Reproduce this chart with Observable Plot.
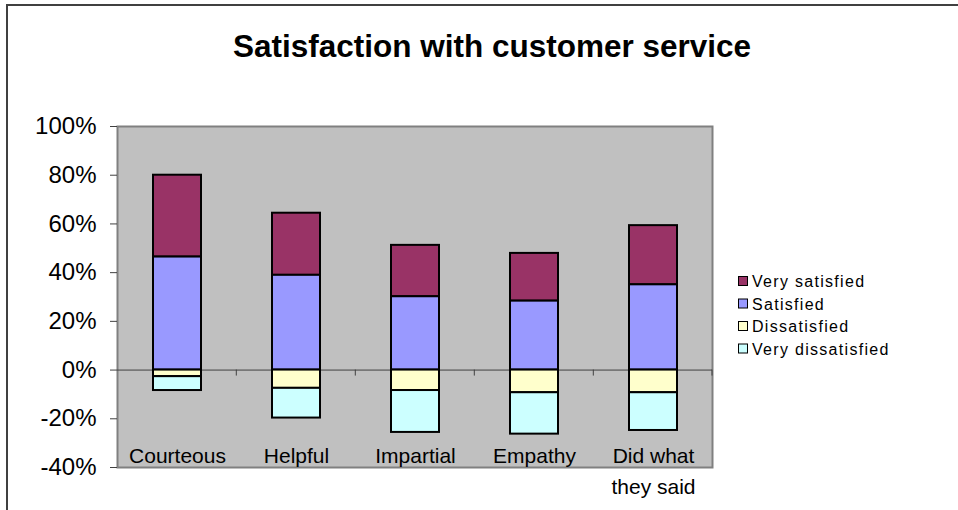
<!DOCTYPE html>
<html>
<head>
<meta charset="utf-8">
<script src="https://cdn.jsdelivr.net/npm/d3@7"></script>
<script src="https://cdn.jsdelivr.net/npm/@observablehq/plot@0.6"></script>
<style>
  html, body { margin: 0; padding: 0; background: white; }
  #chart svg { display: block; }
</style>
</head>
<body>
<div id="chart"></div>
<script>
const categories = ["Courteous", "Helpful", "Impartial", "Empathy", "Did what\nthey said"];
const verySatisfied    = [33.6, 25.5, 21.1, 19.6, 24.3];
const satisfied        = [46.4, 38.9, 30.1, 28.3, 35.0];
const dissatisfied     = [-2.7, -7.5, -8.4, -9.3, -9.3];
const veryDissatisfied = [-5.7, -12.2, -17.2, -17.0, -15.5];
const seriesNames  = ["Very satisfied", "Satisfied", "Dissatisfied", "Very dissatisfied"];
const seriesColors = ["#993366", "#9999FF", "#FFFFCC", "#CCFFFF"];
const yTicks = [-40, -20, 0, 20, 40, 60, 80, 100];
const title = "Satisfaction with customer service";

const seriesValues = [verySatisfied, satisfied, dissatisfied, veryDissatisfied];
const data = [];
seriesNames.forEach((s, k) => categories.forEach((c, i) => data.push({category: c, series: s, value: seriesValues[k][i]})));
const stackOrder = ["Satisfied", "Very satisfied", "Dissatisfied", "Very dissatisfied"];

const font = "'Liberation Sans', Arial, sans-serif";

const chart = Plot.plot({
  width: 958,
  height: 510,
  marginTop: 126,
  marginBottom: 43,
  marginLeft: 117,
  marginRight: 246,
  style: {fontFamily: font, background: "white", overflow: "visible"},
  x: {domain: categories, paddingInner: 0.6, paddingOuter: 0.3, axis: null},
  y: {domain: [-40, 100], axis: null},
  color: {domain: seriesNames, range: seriesColors},
  marks: [
    Plot.frame({fill: "#c0c0c0", stroke: "#808080", strokeWidth: 2}),
    Plot.axisY({ticks: yTicks, tickFormat: d => d + "%", tickSize: 7, tickPadding: 14, fontSize: 24, label: null, stroke: "#404040", fill: "black"}),
    Plot.ruleY([0], {stroke: "#404040", strokeWidth: 1}),
    Plot.barY(data, Plot.stackY({order: stackOrder}, {x: "category", y: "value", fill: "series", stroke: "black", strokeWidth: 2})),
    Plot.text(categories, {x: d => d, y: () => -40, text: d => d, fontSize: 21, lineAnchor: "top", dy: -27, lineHeight: 1.5, fill: "black"})
  ]
});

document.getElementById("chart").appendChild(chart);

const svg = d3.select(chart);
const xs = chart.scale("x");
const ys = chart.scale("y");
const y0 = ys.apply(0);
const gap = xs.step * xs.paddingInner / 2;
const bounds = categories.slice(1).map(c => xs.apply(c) - gap);
bounds.push(958 - 246);
svg.append("g").selectAll("line").data(bounds).join("line")
  .attr("x1", d => d).attr("x2", d => d)
  .attr("y1", y0).attr("y2", y0 + 6)
  .attr("stroke", "#404040").attr("stroke-width", 1);

// outer border
svg.append("line").attr("x1", 6).attr("x2", 958).attr("y1", 5).attr("y2", 5).attr("stroke", "#404040").attr("stroke-width", 2);
svg.append("line").attr("x1", 7).attr("x2", 7).attr("y1", 4).attr("y2", 510).attr("stroke", "#404040").attr("stroke-width", 2);

// title
svg.append("text").attr("x", 492).attr("y", 57).attr("text-anchor", "middle")
  .attr("font-family", font).attr("font-weight", "bold").attr("font-size", 31.5).attr("fill", "black").text(title);

// legend
const lg = svg.append("g").attr("font-family", font).attr("font-size", 16).attr("text-anchor", "start");
seriesNames.forEach((s, i) => {
  const cy = 281 + i * 22.5;
  lg.append("rect").attr("x", 738.5).attr("y", cy - 4.5).attr("width", 9).attr("height", 9)
    .attr("fill", seriesColors[i]).attr("stroke", "black").attr("stroke-width", 1);
  lg.append("text").attr("x", 752).attr("y", cy + 6).attr("text-anchor", "start").attr("letter-spacing", "1.3px").attr("fill", "black").text(s);
});
</script>
</body>
</html>
